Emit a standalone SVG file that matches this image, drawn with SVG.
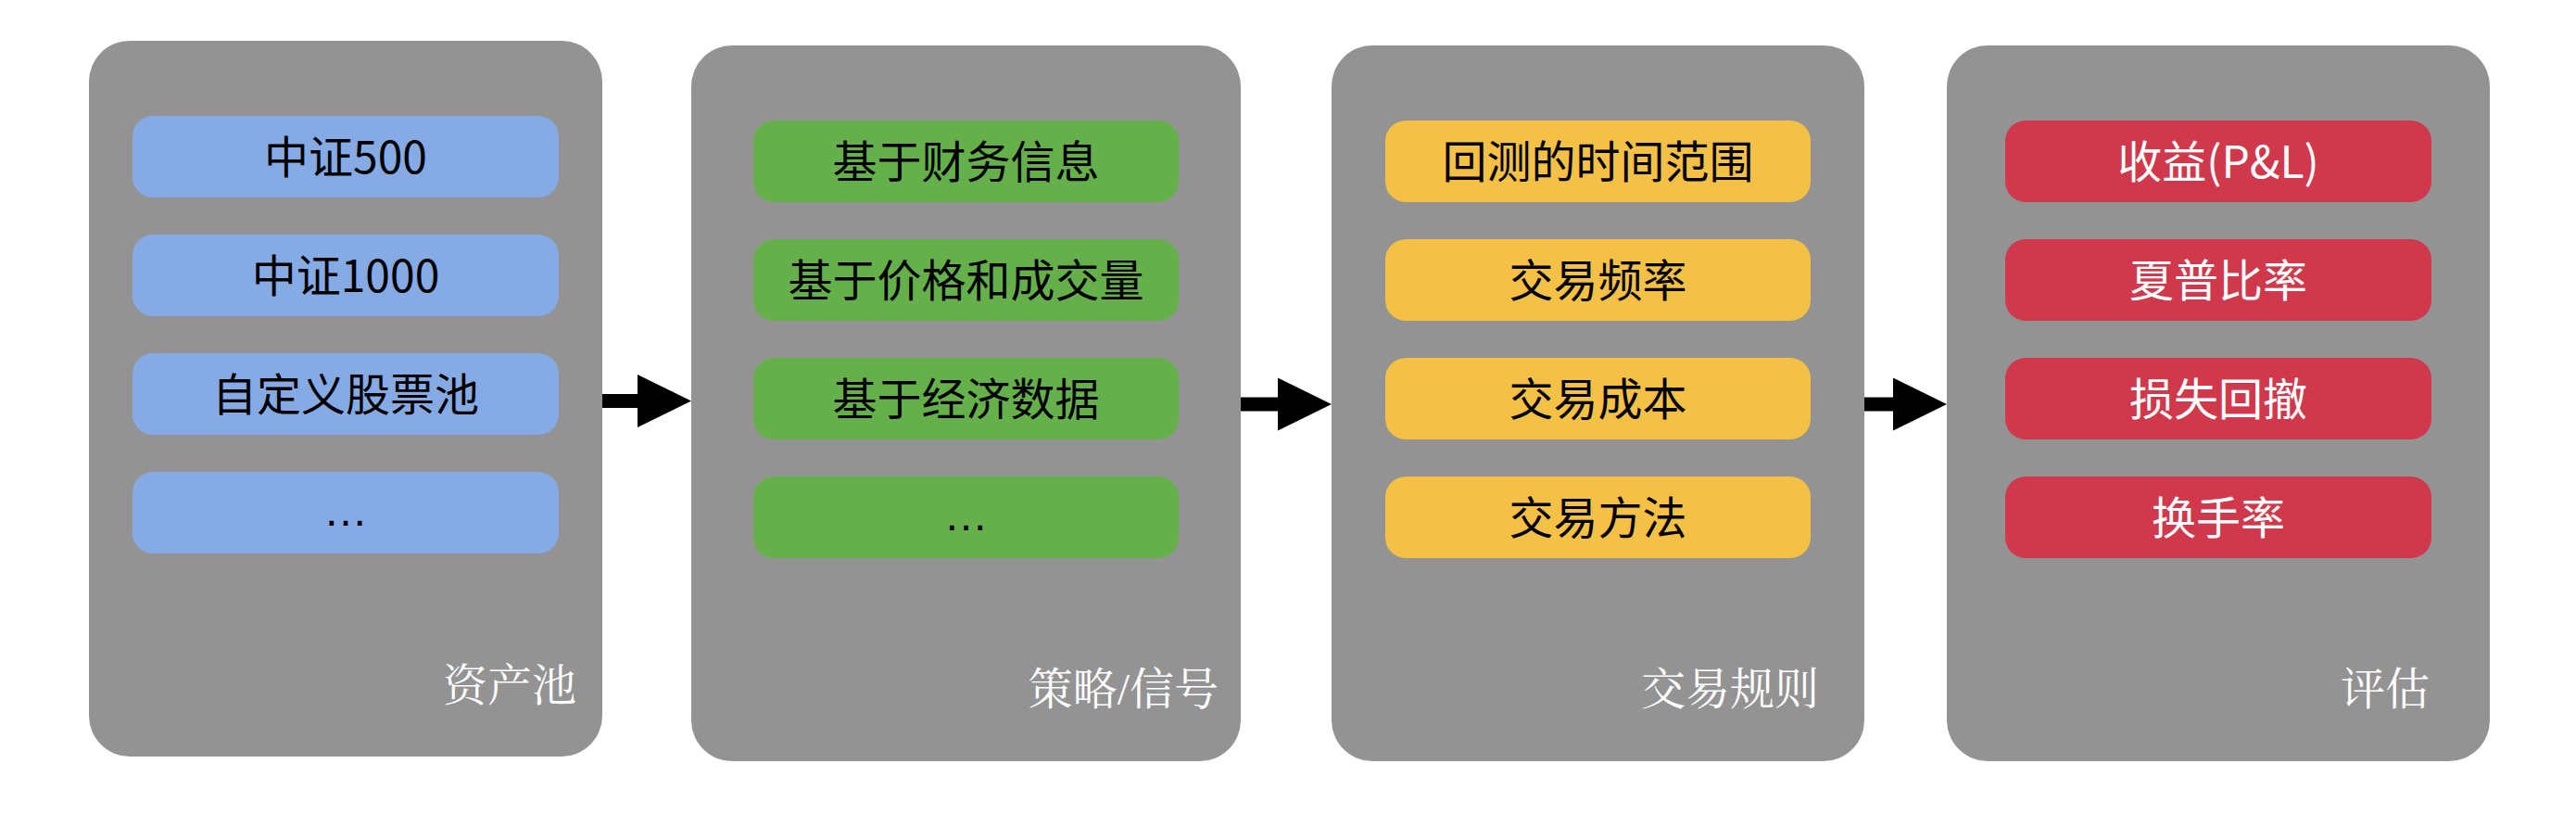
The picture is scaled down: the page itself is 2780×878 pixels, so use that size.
<svg xmlns="http://www.w3.org/2000/svg" width="2780" height="878" viewBox="0 0 2780 878">
<style>
.panel{fill:#939393}
.blue{fill:#85aae4}
.green{fill:#66b04c}
.yellow{fill:#f4c046}
.red{fill:#d0394c}
.t{font-family:"Noto Sans CJK SC","Noto Sans",sans-serif;font-size:48px;text-anchor:middle;dominant-baseline:central;fill:#000}
.tw{fill:#fff}
.dots{font-family:"Liberation Sans","Noto Sans CJK SC",sans-serif}
.lbl{font-family:"Liberation Serif","Noto Serif CJK SC","Noto Sans CJK SC",serif;font-size:48px;text-anchor:end;dominant-baseline:central;fill:#fff}
.conn{stroke:#000;stroke-width:15;fill:none}
</style>
<defs>
<marker id="ah" markerUnits="userSpaceOnUse" markerWidth="58" markerHeight="57" refX="0" refY="28.5" orient="auto" viewBox="0 0 58 57">
<path d="M0,0 L58,28.5 L0,57 Z" fill="#000"/>
</marker>
</defs>
<g id="node-asset-pool">
<rect class="panel" x="96" y="44" width="554" height="772" rx="44"/>
<rect class="blue" x="143" y="125" width="460" height="88" rx="22"/>
<text class="t" x="373" y="166">中证500</text>
<rect class="blue" x="143" y="253" width="460" height="88" rx="22"/>
<text class="t" x="373" y="294">中证1000</text>
<rect class="blue" x="143" y="381" width="460" height="88" rx="22"/>
<text class="t" x="373" y="422">自定义股票池</text>
<rect class="blue" x="143" y="509" width="460" height="88" rx="22"/>
<text class="t dots" x="373" y="550">…</text>
<text class="lbl" x="622" y="739">资产池</text>
</g>
<g id="node-strategy">
<rect class="panel" x="746" y="49" width="593" height="772" rx="44"/>
<rect class="green" x="813" y="130" width="459" height="88" rx="22"/>
<text class="t" x="1042.5" y="171">基于财务信息</text>
<rect class="green" x="813" y="258" width="459" height="88" rx="22"/>
<text class="t" x="1042.5" y="299">基于价格和成交量</text>
<rect class="green" x="813" y="386" width="459" height="88" rx="22"/>
<text class="t" x="1042.5" y="427">基于经济数据</text>
<rect class="green" x="813" y="514" width="459" height="88" rx="22"/>
<text class="t dots" x="1042.5" y="555">…</text>
<text class="lbl" x="1315" y="743">策略/信号</text>
</g>
<g id="node-rules">
<rect class="panel" x="1437" y="49" width="575" height="772" rx="44"/>
<rect class="yellow" x="1495" y="130" width="459" height="88" rx="22"/>
<text class="t" x="1724.5" y="171">回测的时间范围</text>
<rect class="yellow" x="1495" y="258" width="459" height="88" rx="22"/>
<text class="t" x="1724.5" y="299">交易频率</text>
<rect class="yellow" x="1495" y="386" width="459" height="88" rx="22"/>
<text class="t" x="1724.5" y="427">交易成本</text>
<rect class="yellow" x="1495" y="514" width="459" height="88" rx="22"/>
<text class="t" x="1724.5" y="555">交易方法</text>
<text class="lbl" x="1963" y="743">交易规则</text>
</g>
<g id="node-eval">
<rect class="panel" x="2101" y="49" width="586" height="772" rx="44"/>
<rect class="red" x="2164" y="130" width="460" height="88" rx="22"/>
<text class="t tw" x="2394" y="171">收益(P&amp;L)</text>
<rect class="red" x="2164" y="258" width="460" height="88" rx="22"/>
<text class="t tw" x="2394" y="299">夏普比率</text>
<rect class="red" x="2164" y="386" width="460" height="88" rx="22"/>
<text class="t tw" x="2394" y="427">损失回撤</text>
<rect class="red" x="2164" y="514" width="460" height="88" rx="22"/>
<text class="t tw" x="2394" y="555">换手率</text>
<text class="lbl" x="2622" y="743">评估</text>
</g>
<g id="connectors">
<line class="conn" x1="650" y1="432.5" x2="688" y2="432.5" marker-end="url(#ah)"/>
<line class="conn" x1="1339" y1="436" x2="1379" y2="436" marker-end="url(#ah)"/>
<line class="conn" x1="2012" y1="436" x2="2043" y2="436" marker-end="url(#ah)"/>
</g>
</svg>
